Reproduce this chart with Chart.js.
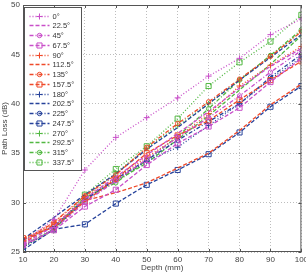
<!DOCTYPE html>
<html>
<head>
<meta charset="utf-8">
<script src="https://cdn.jsdelivr.net/npm/chart.js@4.4.0/dist/chart.umd.min.js"></script>
<style>
    html, body { margin: 0; padding: 0; background: #fff; }
    #wrap { width: 306px; height: 273px; }
</style>
</head>
<body>
<div id="wrap"><canvas id="lossChart" width="306" height="273"></canvas></div>
<script>
// ---- Data ----
const depths = [10, 20, 30, 40, 50, 60, 70, 80, 90, 100];
const yTicks = [25, 30, 35, 40, 45, 50];

const loss000 = [26.0, 28.3, 33.3, 36.6, 38.6, 40.6, 42.8, 44.6, 47.0, 48.6];
const loss022 = [25.8, 27.6, 30.4, 32.6, 34.8, 37.0, 39.2, 41.6, 43.8, 45.6];
const loss045 = [25.6, 27.3, 30.0, 32.2, 34.4, 36.6, 38.6, 40.8, 43.2, 45.4];
const loss067 = [25.7, 27.2, 29.6, 31.3, 33.8, 36.0, 37.7, 39.6, 42.2, 44.6];
const loss090 = [26.2, 28.0, 30.6, 32.4, 34.6, 36.6, 39.0, 41.8, 43.9, 45.8];
const loss112 = [25.9, 27.8, 30.2, 31.0, 32.0, 33.5, 35.0, 37.3, 39.9, 42.0];
const loss135 = [26.0, 28.0, 30.7, 32.8, 35.6, 38.0, 40.2, 42.5, 44.8, 47.3];
const loss157 = [26.4, 27.5, 30.1, 32.4, 35.0, 36.8, 38.3, 40.4, 42.4, 44.3];
const loss180 = [25.5, 27.3, 30.2, 32.3, 34.2, 35.6, 37.8, 40.0, 42.5, 44.7];
const loss202 = [26.3, 28.5, 30.8, 32.9, 35.4, 37.6, 40.0, 42.4, 44.7, 47.0];
const loss225 = [26.2, 27.6, 30.3, 32.4, 34.3, 36.3, 38.2, 40.0, 42.7, 45.0];
const loss247 = [25.2, 27.3, 27.8, 29.9, 31.8, 33.3, 34.9, 37.1, 39.7, 41.8];
const loss270 = [25.5, 27.2, 30.6, 33.0, 35.5, 37.8, 40.0, 42.4, 44.8, 47.4];
const loss292 = [25.6, 27.3, 30.4, 32.2, 34.0, 36.4, 38.8, 41.4, 44.0, 46.9];
const loss315 = [25.7, 27.3, 30.5, 32.0, 34.3, 36.7, 39.5, 42.4, 44.9, 47.5];
const loss337 = [25.5, 27.3, 30.8, 33.4, 35.7, 38.5, 41.8, 44.2, 46.3, 49.0];

const angleLabels = ['0°', '22.5°', '45°', '67.5°', '90°', '112.5°', '135°', '157.5°',
                     '180°', '202.5°', '225°', '247.5°', '270°', '292.5°', '315°', '337.5°'];
const lossSeries = [loss000, loss022, loss045, loss067, loss090, loss112, loss135, loss157,
                    loss180, loss202, loss225, loss247, loss270, loss292, loss315, loss337];

// ---- Styles ----
const familyColors = ['#c94fc9', '#ef4a2a', '#27439b', '#52b842'];
const lineStyles = [
    { dash: [1, 2], marker: 'cross', radius: 3 },
    { dash: [4, 2], marker: false, radius: 0 },
    { dash: [4, 2, 1, 2], marker: 'circle', radius: 2.2 },
    { dash: [4, 2], marker: 'rect', radius: 3.6 }
];

function styleFor(i) {
    const st = Object.assign({}, lineStyles[i % 4]);
    if (i === 15) st.dash = [1, 2];
    return st;
}

const datasets = lossSeries.map((vals, i) => {
    const color = familyColors[Math.floor(i / 4)];
    const st = styleFor(i);
    return {
        label: angleLabels[i],
        data: vals.map((v, k) => ({ x: depths[k], y: v })),
        borderColor: color,
        borderWidth: 1.3,
        borderDash: st.dash,
        tension: 0,
        fill: false,
        pointStyle: st.marker || 'circle',
        pointRadius: st.radius,
        pointHoverRadius: st.radius,
        pointBorderColor: color,
        pointBackgroundColor: 'rgba(0,0,0,0)',
        pointBorderWidth: 1
    };
});

// ---- Frame with inward ticks ----
const frameBox = {
    id: 'frameBox',
    afterDatasetsDraw(chart) {
        const { ctx, chartArea: a, scales } = chart;
        ctx.save();
        ctx.strokeStyle = '#555';
        ctx.lineWidth = 1;
        ctx.setLineDash([]);
        ctx.strokeRect(a.left + 0.5, a.top + 0.5, a.right - a.left - 1, a.bottom - a.top - 1);
        ctx.beginPath();
        scales.x.ticks.forEach(t => {
            const px = Math.round(scales.x.getPixelForValue(t.value)) + 0.5;
            ctx.moveTo(px, a.bottom); ctx.lineTo(px, a.bottom - 3);
            ctx.moveTo(px, a.top); ctx.lineTo(px, a.top + 3);
        });
        scales.y.ticks.forEach(t => {
            const py = Math.round(scales.y.getPixelForValue(t.value)) + 0.5;
            ctx.moveTo(a.left, py); ctx.lineTo(a.left + 3, py);
            ctx.moveTo(a.right, py); ctx.lineTo(a.right - 3, py);
        });
        ctx.stroke();
        ctx.restore();
    }
};

// ---- Legend inside plot ----
function drawMarker(ctx, type, x, y, r) {
    ctx.beginPath();
    if (type === 'cross') {
        ctx.moveTo(x - r, y); ctx.lineTo(x + r, y);
        ctx.moveTo(x, y - r); ctx.lineTo(x, y + r);
    } else if (type === 'circle') {
        ctx.arc(x, y, r, 0, Math.PI * 2);
    } else if (type === 'rect') {
        const s = r * Math.SQRT1_2;
        ctx.rect(x - s, y - s, 2 * s, 2 * s);
    }
    ctx.stroke();
}

const legendBox = {
    id: 'legendBox',
    afterDatasetsDraw(chart) {
        const ctx = chart.ctx;
        const a = chart.chartArea;
        const x0 = a.left + 1.5, y0 = a.top + 2.5, w = 57, rowH = 9.75;
        const h = rowH * chart.data.datasets.length + 7;
        ctx.save();
        ctx.fillStyle = '#fff';
        ctx.fillRect(x0, y0, w, h);
        ctx.strokeStyle = '#555';
        ctx.lineWidth = 1;
        ctx.setLineDash([]);
        ctx.strokeRect(x0, y0, w, h);
        ctx.font = '7.5px "Liberation Sans", Arial, sans-serif';
        ctx.textBaseline = 'middle';
        chart.data.datasets.forEach((ds, i) => {
            const st = styleFor(i);
            const y = Math.round(y0 + 8 + i * rowH) + 0.5;
            ctx.strokeStyle = ds.borderColor;
            ctx.lineWidth = 1.3;
            ctx.setLineDash(st.dash);
            ctx.beginPath();
            ctx.moveTo(x0 + 5, y); ctx.lineTo(x0 + 25, y);
            ctx.stroke();
            ctx.setLineDash([]);
            ctx.lineWidth = 1;
            if (st.marker) drawMarker(ctx, st.marker, x0 + 15, y, st.radius);
            ctx.fillStyle = '#333';
            ctx.fillText(ds.label, x0 + 28, y);
        });
        ctx.restore();
    }
};

// ---- Chart ----
function initLossChart() {
    const ctx = document.getElementById('lossChart');
    new Chart(ctx, {
        type: 'line',
        data: { datasets },
        options: {
            responsive: false,
            animation: false,
            layout: { padding: { top: 5, right: 4, left: 0, bottom: 0 } },
            plugins: {
                legend: { display: false },
                tooltip: { enabled: false }
            },
            scales: {
                x: {
                    type: 'linear',
                    min: 10,
                    max: 100,
                    ticks: {
                        stepSize: 10,
                        color: '#444',
                        padding: 3,
                        maxRotation: 0,
                        font: { size: 8, family: '"Liberation Sans", Arial, sans-serif' }
                    },
                    grid: { color: '#bdbdbd', drawTicks: false },
                    border: { display: false, dash: [1, 2] },
                    title: {
                        display: true,
                        text: 'Depth (mm)',
                        color: '#444',
                        padding: { top: 1, bottom: 0 },
                        font: { size: 8, family: '"Liberation Sans", Arial, sans-serif' }
                    },
                    afterFit: s => { s.height = 21; s.paddingLeft = 0; s.paddingRight = 0; }
                },
                y: {
                    min: 25,
                    max: 50,
                    afterBuildTicks: s => { s.ticks = yTicks.map(v => ({ value: v })); },
                    ticks: {
                        color: '#444',
                        padding: 3,
                        font: { size: 8, family: '"Liberation Sans", Arial, sans-serif' }
                    },
                    grid: { color: '#bdbdbd', drawTicks: false },
                    border: { display: false, dash: [1, 2] },
                    title: {
                        display: true,
                        text: 'Path Loss (dB)',
                        color: '#444',
                        padding: { top: 0, bottom: 1 },
                        font: { size: 8, family: '"Liberation Sans", Arial, sans-serif' }
                    },
                    afterFit: s => { s.width = 23; s.paddingTop = 0; s.paddingBottom = 0; }
                }
            }
        },
        plugins: [frameBox, legendBox]
    });
}

document.addEventListener('DOMContentLoaded', initLossChart);
</script>
</body>
</html>
